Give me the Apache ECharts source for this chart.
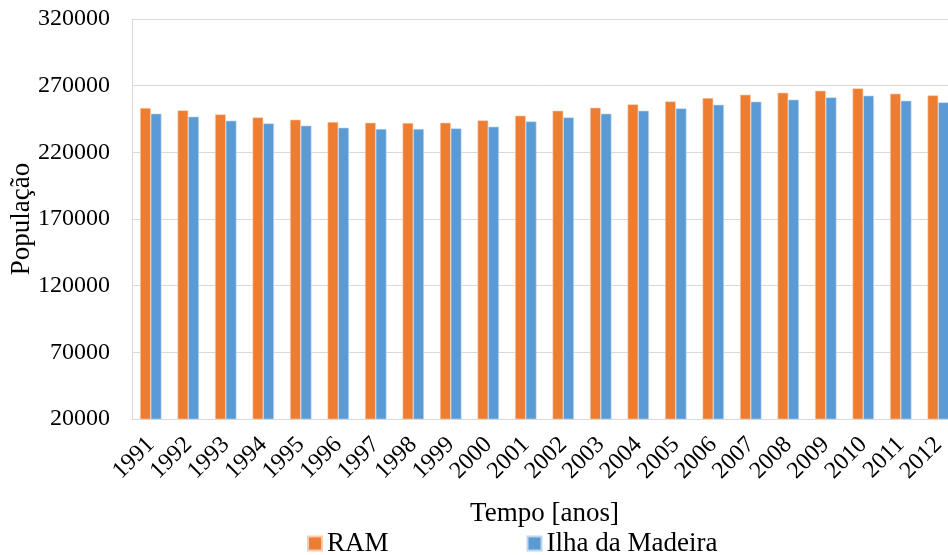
<!DOCTYPE html>
<html><head><meta charset="utf-8">
<script src="https://cdn.jsdelivr.net/npm/echarts@6/dist/echarts.min.js"></script>
<style>html,body{margin:0;padding:0;background:#fff}#c{width:948px;height:555px}</style>
</head><body><div id="c"></div>
<script>
const years = ['1991','1992','1993','1994','1995','1996','1997','1998','1999','2000','2001','2002','2003','2004','2005','2006','2007','2008','2009','2010','2011','2012'];
const ram = [253200,251500,248500,246200,244500,242700,242200,242000,242200,244000,247500,251200,253500,256000,258200,260700,263200,264700,266200,268000,264000,262700];
const ilha = [249000,246750,243750,241700,240000,238500,237500,237500,238000,239250,243200,246200,249000,251200,253000,255700,258000,259500,261200,262500,258700,257500];
const seriesNames = ['RAM','Ilha da Madeira'];
const font = '"Liberation Serif", "Times New Roman", serif';
const chart = echarts.init(document.getElementById('c'));
chart.setOption({
  animation:false,
  textStyle:{fontFamily:font,color:'#000'},
  grid:{left:132,top:19,width:825,height:400,containLabel:false,outerBoundsMode:'none'},
  legend:{left:307,top:530,padding:0,itemWidth:14,itemHeight:14,itemGap:138,icon:'rect',
    textStyle:{fontFamily:font,fontSize:27,color:'#000'},data:seriesNames},
  xAxis:{type:'category',data:years,
    axisLine:{lineStyle:{color:'#D9D9D9'}},axisTick:{show:false},
    axisLabel:{rotate:45,fontFamily:font,fontSize:24,color:'#000',margin:22,interval:0},
    name:'Tempo [anos]',nameLocation:'middle',nameGap:81,nameMoveOverlap:false,
    nameTextStyle:{fontFamily:font,fontSize:27,color:'#000'}},
  yAxis:{type:'value',min:20000,max:320000,interval:50000,
    axisLine:{show:true,lineStyle:{color:'#D9D9D9'}},axisTick:{show:false},
    splitLine:{lineStyle:{color:'#D9D9D9',width:1}},
    axisLabel:{fontFamily:font,fontSize:24,color:'#000',margin:22,formatter:v=>String(v)},
    name:'População',nameLocation:'middle',nameGap:97,nameRotate:90,nameMoveOverlap:false,
    nameTextStyle:{fontFamily:font,fontSize:27,color:'#000'}},
  series:[
    {name:seriesNames[0],type:'bar',data:ram,barWidth:10.7,barGap:'0%',
      itemStyle:{color:'#ED7D31',borderColor:'#F8CBAD',borderWidth:0.6}},
    {name:seriesNames[1],type:'bar',data:ilha,barWidth:10.7,barGap:'0%',
      itemStyle:{color:'#5B9BD5',borderColor:'#BDD7EE',borderWidth:0.6}}
  ]
});
</script></body></html>
